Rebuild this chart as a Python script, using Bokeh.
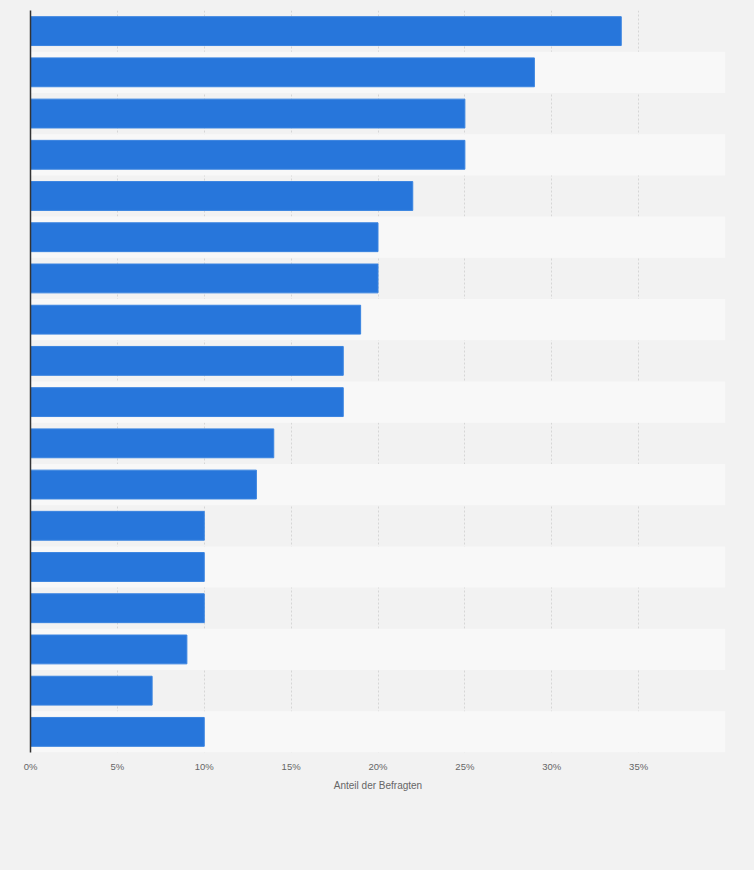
from bokeh.plotting import figure
from bokeh.models import FixedTicker, Range1d, ColumnDataSource
from bokeh.embed import file_html
from bokeh.resources import INLINE

# Data (categories are not labelled in the reference; ranked rows top to bottom)
ranks = list(range(1, 19))
values = [34, 29, 25, 25, 22, 20, 20, 19, 18, 18, 14, 13, 10, 10, 10, 9, 7, 10]
x_ticks = [0, 5, 10, 15, 20, 25, 30, 35]
x_tick_labels = ["0%", "5%", "10%", "15%", "20%", "25%", "30%", "35%"]
x_axis_label = "Anteil der Befragten"

n = len(ranks)
p = figure(width=754, height=870, output_backend="svg", toolbar_location=None,
           x_range=Range1d(0, 40), y_range=Range1d(n + 0.5, 0.5),
           min_border_left=30, min_border_right=29, min_border_top=10, min_border_bottom=118)
p.background_fill_color = "#f2f2f2"
p.border_fill_color = "#f2f2f2"
p.outline_line_color = None

# alternating row stripes
stripe_rows = [r for r in ranks if r % 2 == 0]
p.hbar(y=stripe_rows, left=0, right=40, height=1.0, fill_color="#f8f8f8", line_color=None)

# grid
p.ygrid.grid_line_color = None
p.xgrid.ticker = FixedTicker(ticks=x_ticks + [40])
p.xgrid.grid_line_color = "#d6d6d6"
p.xgrid.grid_line_dash = "2 2"
p.xgrid.grid_line_width = 1
p.xgrid.level = "underlay"

src = ColumnDataSource(dict(y=ranks, v=values))
p.hbar(y="y", right="v", left=0, height=0.7, source=src,
       fill_color="#2776db", line_color="#3a84e0", line_width=1)

# x axis
p.xaxis.ticker = FixedTicker(ticks=x_ticks)
p.xaxis.major_label_overrides = {t: l for t, l in zip(x_ticks, x_tick_labels)}
p.xaxis.axis_line_color = None
p.xaxis.major_tick_line_color = None
p.xaxis.minor_tick_line_color = None
p.xaxis.major_tick_out = 0
p.xaxis.major_tick_in = 0
p.xaxis.major_label_text_font = "Liberation Sans"
p.xaxis.major_label_text_font_size = "9.5px"
p.xaxis.major_label_text_color = "#666666"
p.xaxis.major_label_standoff = 8
p.xaxis.axis_label = x_axis_label
p.xaxis.axis_label_text_font = "Liberation Sans"
p.xaxis.axis_label_text_font_style = "normal"
p.xaxis.axis_label_text_font_size = "10px"
p.xaxis.axis_label_text_color = "#666666"
p.xaxis.axis_label_standoff = 5

# y axis: line only
p.yaxis.ticker = FixedTicker(ticks=[])
p.yaxis.axis_line_color = "#333333"
p.yaxis.axis_line_width = 1.5
p.yaxis.major_tick_line_color = None
p.yaxis.minor_tick_line_color = None

html = file_html(p, INLINE)
html = html.replace("<head>", "<head><style>html,body{background:#f2f2f2;}</style>", 1)
open("out.html", "w").write(html)
